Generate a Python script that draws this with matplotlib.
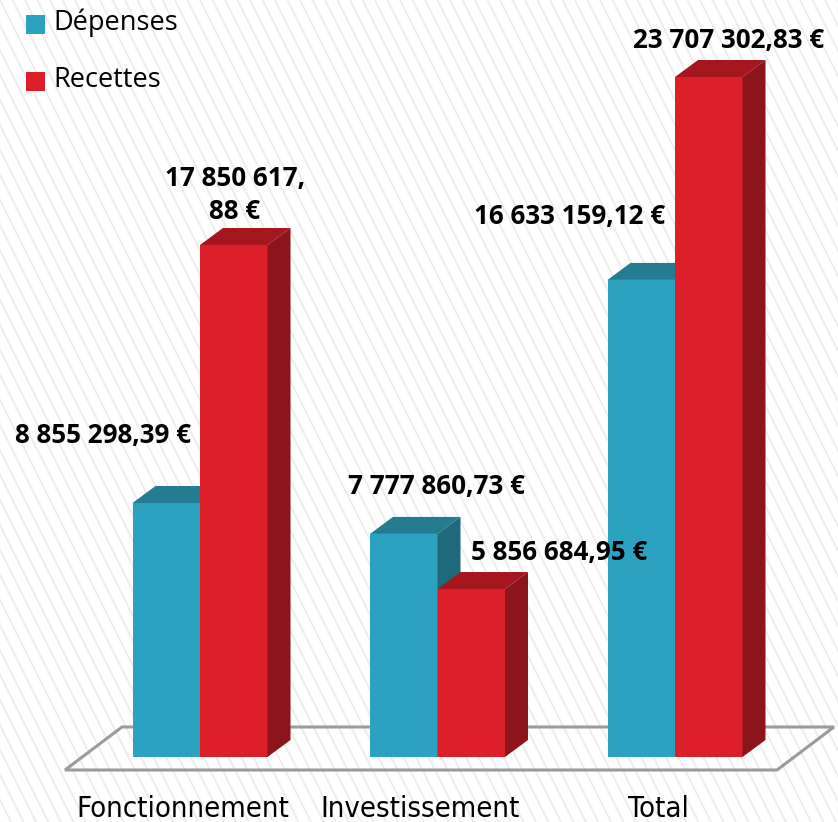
import matplotlib
matplotlib.use("Agg")
import matplotlib.pyplot as plt
from matplotlib.patches import Polygon, Rectangle
import numpy as np

# ---- data ----
categories = ["Fonctionnement", "Investissement", "Total"]
series_names = ["Dépenses", "Recettes"]
depenses = [8855298.39, 7777860.73, 16633159.12]
recettes = [17850617.88, 5856684.95, 23707302.83]
depenses_labels = ["8 855 298,39 €", "7 777 860,73 €", "16 633 159,12 €"]
recettes_labels = ["17 850 617,\n88 €", "5 856 684,95 €", "23 707 302,83 €"]

# ---- style ----
W, H, DPI = 838, 822, 100
front_col = ["#2ca2c1", "#dc1f28"]
top_col = ["#247c90", "#a5161e"]
side_col = ["#1e6a7b", "#8b151a"]
GROUP_PX = 237.5          # pixels between group centres
BAR_PX = 67.5             # bar width in pixels
DEPTH_X, DEPTH_Y = 23, 17 # 3D depth offsets in pixels
BASE_PX = 757             # baseline pixel row (from top)
FIRST_PX = 200            # first group centre pixel column

fig = plt.figure(figsize=(W / DPI, H / DPI), dpi=DPI)

# background stripes
bg = fig.add_axes([0, 0, 1, 1])
bg.set_xlim(0, W)
bg.set_ylim(H, 0)
bg.axis("off")
for x0 in np.arange(-450, W + 12, 12.5):
    bg.plot([x0, x0 + H * 0.5], [0, H], color="#ececec", lw=1.3, solid_capstyle="butt")

ax = fig.add_axes([0, 0, 1, 1])
ax.patch.set_alpha(0)
ax.axis("off")

max_val = max(recettes)
# pixel -> data scale: tallest bar top at pixel row 77
val_per_px = max_val / (BASE_PX - 77)
ax.set_ylim(-(H - BASE_PX) * val_per_px, BASE_PX * val_per_px)
ax.set_xlim(-FIRST_PX / GROUP_PX, (W - FIRST_PX) / GROUP_PX)

ux = 1.0 / GROUP_PX         # data units per px in x
uy = val_per_px             # data units per px in y
bw = BAR_PX * ux
dx, dy = DEPTH_X * ux, DEPTH_Y * uy

# floor
n = len(categories)
fl_front_y, fl_back_y = -13 * uy, 30 * uy
fl_left = -135 * ux
fl_right = (n - 1) + 102 * ux
fl_d = 57 * ux
floor = Polygon([(fl_left, fl_front_y), (fl_right, fl_front_y),
                 (fl_right + fl_d, fl_back_y), (fl_left + fl_d, fl_back_y)],
                closed=True, fill=False, edgecolor="#9b9b9b", lw=2.2, zorder=1)
ax.add_patch(floor)

x = np.arange(n)
for s, vals in enumerate([depenses, recettes]):
    lefts = x - bw + s * bw
    ax.bar(lefts, vals, width=bw, align="edge", color=front_col[s],
           edgecolor="none", zorder=2 + s * 3)
    for l, v in zip(lefts, vals):
        r = l + bw
        ax.add_patch(Polygon([(l, v), (r, v), (r + dx, v + dy), (l + dx, v + dy)],
                             closed=True, facecolor=top_col[s], edgecolor="none",
                             zorder=3 + s * 3))
        ax.add_patch(Polygon([(r, 0), (r + dx, dy), (r + dx, v + dy), (r, v)],
                             closed=True, facecolor=side_col[s], edgecolor="none",
                             zorder=3 + s * 3))

# value labels (pixel offsets of the label centre from the bar's front-top centre)
dep_off = [(-63, 68), (33, 47), (-72, 63)]
rec_off = [(1, 50), (88, 37), (20, 37)]
lab_font = dict(family=["Open Sans", "DejaVu Sans"], weight="bold", size=18.7, color="black")
for s, (vals, labs, offs) in enumerate([(depenses, depenses_labels, dep_off),
                                        (recettes, recettes_labels, rec_off)]):
    for i, (v, t, o) in enumerate(zip(vals, labs, offs)):
        cx = x[i] - bw / 2 + s * bw
        ax.annotate(t, xy=(cx, v), xytext=o, textcoords="offset pixels",
                    ha="center", va="center", linespacing=1.3, zorder=10, **lab_font)

# category labels
for i, c in enumerate(categories):
    ax.text(x[i] - 17 * ux, -52 * uy, c, ha="center", va="center",
            family=["DejaVu Sans"], stretch="condensed", size=21, color="black")

# legend
for s, name in enumerate(series_names):
    ytop = 15 + s * 57
    fig.patches.append(Rectangle((26 / W, 1 - (ytop + 19) / H), 19 / W, 19 / H,
                                 transform=fig.transFigure, facecolor=front_col[s],
                                 edgecolor="none"))
    fig.text(53 / W, 1 - (ytop + 8) / H, name, ha="left", va="center",
             family=["Open Sans", "DejaVu Sans"], size=19.5, color="black")

fig.savefig("out.png", dpi=DPI)
